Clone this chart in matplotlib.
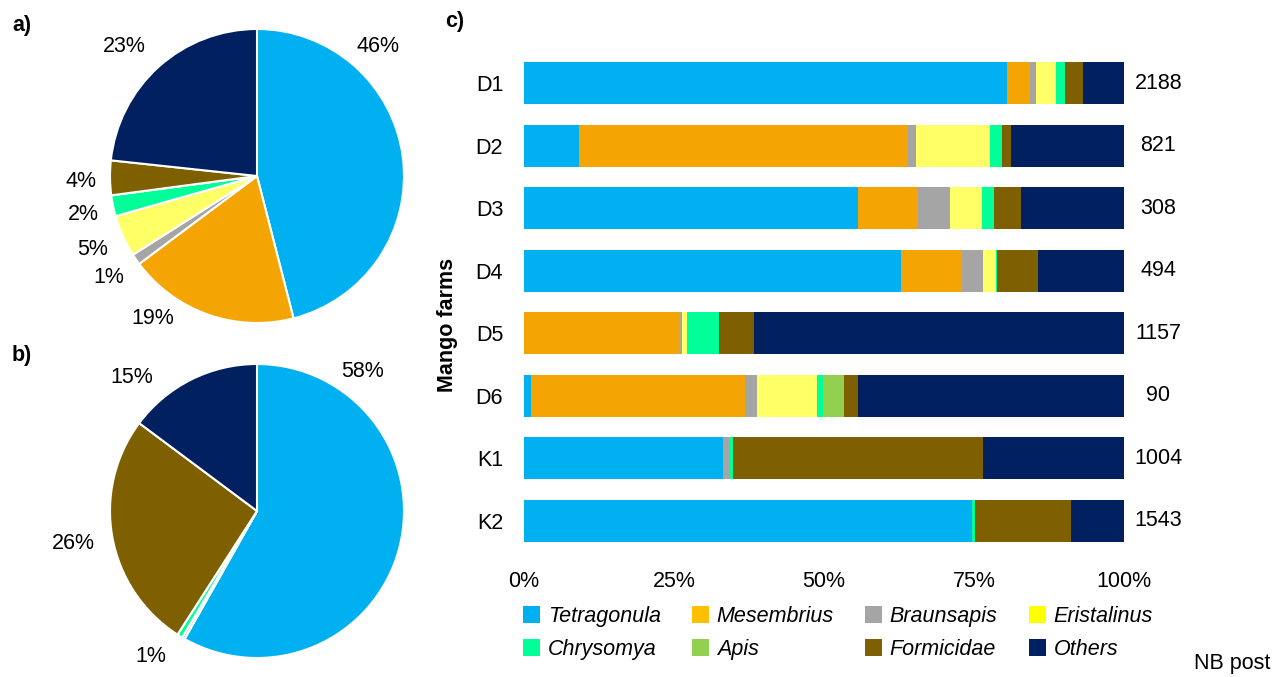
import numpy as np
import matplotlib
matplotlib.use("Agg")
import matplotlib.pyplot as plt
from matplotlib.patches import Patch

plt.rcParams['font.family'] = ['Liberation Sans', 'DejaVu Sans']

taxa = ["Tetragonula", "Mesembrius", "Braunsapis", "Eristalinus",
        "Chrysomya", "Apis", "Formicidae", "Others"]
colors = ["#00B0F0", "#F5A503", "#A5A5A5", "#FFFF66",
          "#00FF99", "#92D050", "#7F6000", "#002060"]
legend_colors = ["#00B0F0", "#FFC000", "#A5A5A5", "#FFFF00",
                 "#00FF99", "#92D050", "#7F6000", "#002060"]

# a) and b) overall shares (%), same taxa order
pie_a = [46.0, 18.8, 1.2, 4.6, 2.3, 0.0, 3.8, 23.3]
pie_b = [58.2, 0.0, 0.3, 0.0, 0.6, 0.0, 26.1, 14.8]

# c) share (%) of each taxon per mango farm
farms = ["D1", "D2", "D3", "D4", "D5", "D6", "K1", "K2"]
nb_post = [2188, 821, 308, 494, 1157, 90, 1004, 1543]
tetragonula = [80.5, 9.1, 55.7, 62.9, 0.0, 1.1, 33.2, 74.6]
mesembrius = [3.9, 54.9, 9.9, 10.1, 26.0, 35.7, 0.0, 0.0]
braunsapis = [0.9, 1.4, 5.4, 3.5, 0.3, 2.1, 1.0, 0.0]
eristalinus = [3.4, 12.2, 5.3, 2.1, 0.9, 10.0, 0.0, 0.0]
chrysomya = [1.5, 2.0, 2.0, 0.3, 5.3, 1.0, 0.7, 0.5]
apis = [0.0, 0.0, 0.0, 0.0, 0.0, 3.4, 0.0, 0.0]
formicidae = [3.0, 1.5, 4.5, 6.7, 5.8, 2.3, 41.6, 16.0]
others = [6.8, 18.9, 17.2, 14.4, 61.7, 44.4, 23.5, 8.9]
shares = [tetragonula, mesembrius, braunsapis, eristalinus,
          chrysomya, apis, formicidae, others]

# where the percentage labels sit around each pie (radius units)
label_pos_a = [(0.82, 0.88), (-0.71, -0.97), (-1.01, -0.69), (-1.12, -0.50),
               (-1.18, -0.26), None, (-1.20, -0.04), (-0.90, 0.88)]
label_pos_b = [(0.72, 0.95), None, None, None,
               (-0.72, -0.99), None, (-1.25, -0.22), (-0.85, 0.91)]

W, H = 1288, 677
fig = plt.figure(figsize=(W / 100, H / 100), dpi=100)
FS = 15.5


def px_axes(left, top, width, height):
    return fig.add_axes([left / W, 1 - (top + height) / H, width / W, height / H])


def draw_pie(ax, values, label_pos):
    ax.pie(values, colors=colors, startangle=90, counterclock=False,
           radius=1, wedgeprops=dict(edgecolor="white", linewidth=1.5))
    for v, pos in zip(values, label_pos):
        if pos is None or round(v) == 0:
            continue
        ax.text(pos[0], pos[1], f"{round(v)}%", ha="center", va="center",
                fontsize=FS)
    ax.set_xlim(-1, 1)
    ax.set_ylim(-1, 1)
    ax.set_aspect("equal")
    ax.axis("off")


r = 147
ax_a = px_axes(257 - r, 176 - r, 2 * r, 2 * r)
draw_pie(ax_a, pie_a, label_pos_a)
ax_b = px_axes(257 - r, 511 - r, 2 * r, 2 * r)
draw_pie(ax_b, pie_b, label_pos_b)

# stacked bars
ax = px_axes(524, 52, 600, 500)
y = np.arange(len(farms))
left = np.zeros(len(farms))
for name, col, vals in zip(taxa, colors, shares):
    ax.barh(y, vals, left=left, height=0.67, color=col, label=name)
    left += np.array(vals)

for yi, n in zip(y, nb_post):
    ax.text(105.7, yi, str(n), ha="center", va="center", fontsize=FS)

ax.set_xlim(0, 100)
ax.set_ylim(len(farms) - 0.5, -0.5)
ax.set_yticks(y)
ax.set_yticklabels(farms)
ax.set_xticks([0, 25, 50, 75, 100])
ax.set_xticklabels(["0%", "25%", "50%", "75%", "100%"])
ax.tick_params(axis="both", length=0, labelsize=FS)
ax.tick_params(axis="y", pad=15)
ax.tick_params(axis="x", pad=14)
for s in ax.spines.values():
    s.set_visible(False)

fig.text(447 / W, 1 - 325 / H, "Mango farms", rotation=90, ha="center",
         va="center", fontsize=FS, fontweight="bold")

# legend, filled column by column -> reorder for row-wise reading
order = [0, 4, 1, 5, 2, 6, 3, 7]
handles = [Patch(facecolor=legend_colors[i], label=taxa[i]) for i in order]
leg = fig.legend(handles=handles, ncol=4, loc="upper left",
                 bbox_to_anchor=(523 / W, 1 - 606 / H), frameon=False,
                 prop=dict(size=FS, style="italic"), handlelength=0.8,
                 handleheight=0.8, handletextpad=0.35, columnspacing=1.45,
                 labelspacing=0.55, borderaxespad=0, borderpad=0)

fig.text(1232 / W, 1 - 663 / H, "NB post", ha="center", va="center", fontsize=FS)

for txt, xp, yp in [("a)", 12, 25), ("b)", 12, 356), ("c)", 445, 22)]:
    fig.text(xp / W, 1 - yp / H, txt, ha="left", va="center", fontsize=FS,
             fontweight="bold")

fig.savefig("out.png", dpi=100)
